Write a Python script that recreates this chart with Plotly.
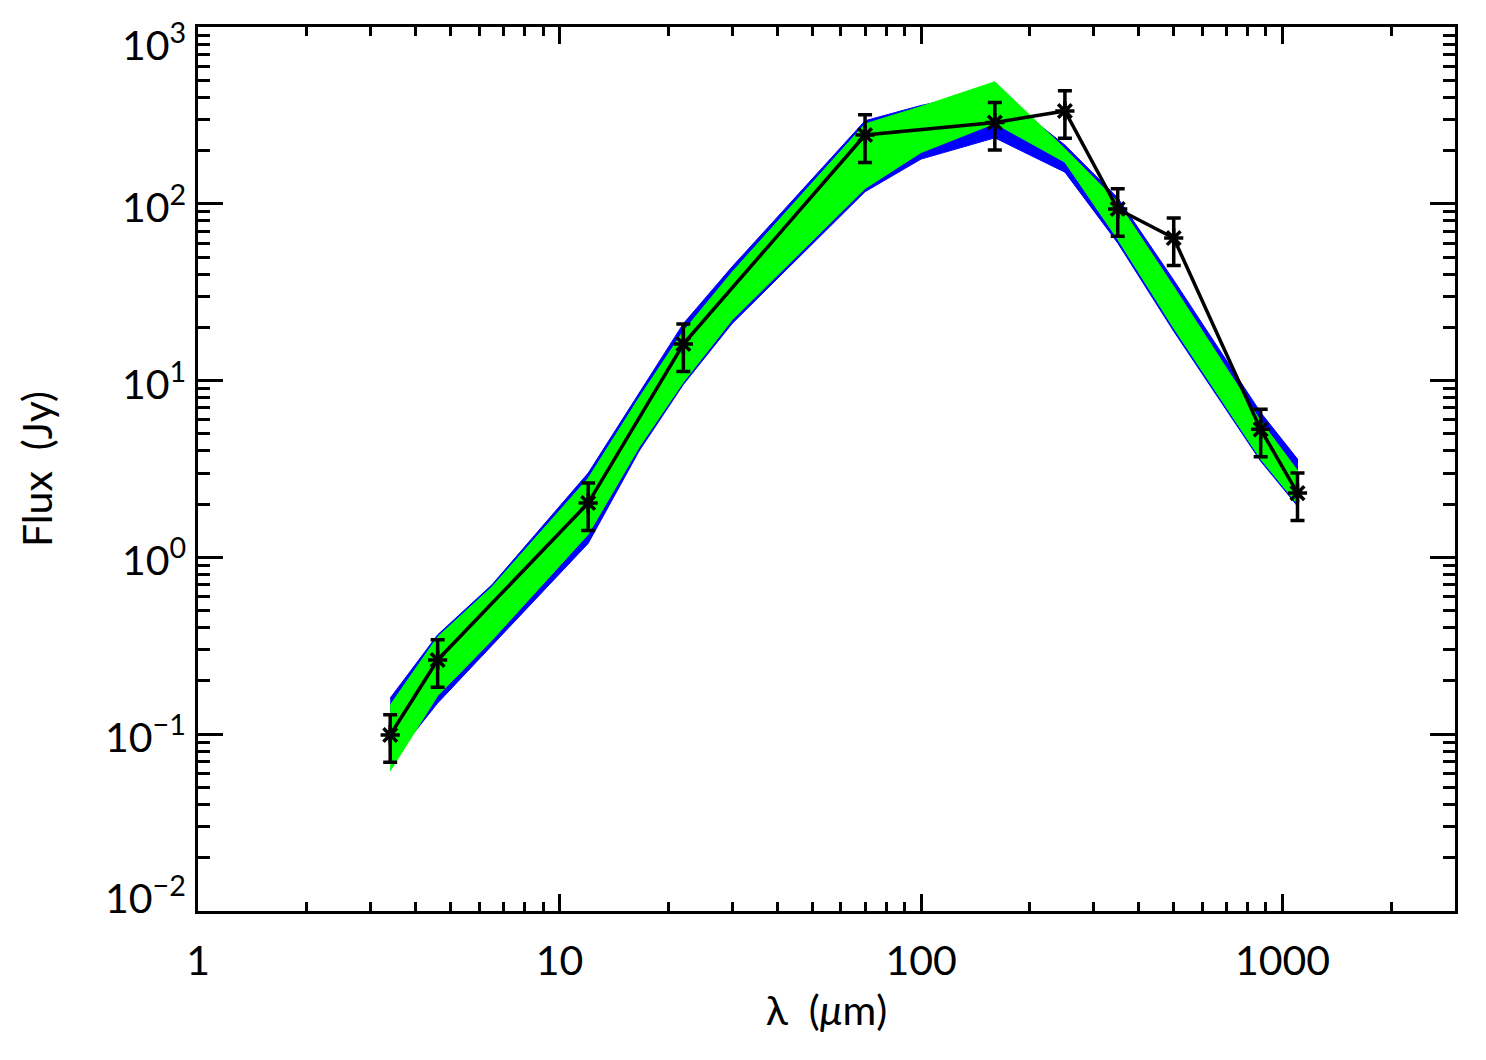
import math
import plotly.graph_objects as go

# Observed photometry
obs_wl = [3.4, 4.6, 12, 22, 70, 160, 250, 350, 500, 870, 1100]
obs_flux = [0.099, 0.263, 2.03, 16.1, 245, 288, 335, 93.5, 64, 5.3, 2.31]
obs_err_pct = 30

# Model envelopes (blue and green families of model SEDs)
mod_wl = [3.4, 4.6, 6.5, 12, 16.6, 22, 30, 70, 100, 160, 250, 350, 500, 870, 1100]
blue_upper = [0.160, 0.365, 0.70, 3.0, 8.5, 21, 44, 295, 360, 440, 215, 108, 37, 6.6, 3.6]
blue_lower = [0.069, 0.150, 0.32, 1.2, 4.0, 9.5, 21, 117, 179, 236, 151, 60, 19, 3.5, 1.95]
green_upper = [0.146, 0.355, 0.68, 2.8, 8.0, 19, 41, 283, 355, 490, 205, 102, 34, 5.9, 3.1]
green_lower = [0.062, 0.165, 0.34, 1.35, 4.2, 9.8, 22, 122, 195, 285, 172, 63, 19.8, 3.6, 2.0]

x_ticks = [1, 10, 100, 1000]
x_ticktext = ["1", "10", "100", "1000"]
y_ticks = [0.01, 0.1, 1, 10, 100, 1000]
y_ticktext = ["10<sup>\u22122</sup>", "10<sup>\u22121</sup>", "10<sup>0</sup>",
              "10<sup>1</sup>", "10<sup>2</sup>", "10<sup>3</sup>"]
# label anchor positions (end labels are pulled inside the frame, as in the original)
y_label_pos = [10 ** -1.91, 0.1, 1, 10, 100, 10 ** 2.915]

FONT = "Lato"
FS = 41

fig = go.Figure()


def band(upper, lower, color):
    return go.Scatter(
        x=mod_wl + mod_wl[::-1],
        y=upper + lower[::-1],
        fill="toself",
        fillcolor=color,
        line=dict(color=color, width=1),
        mode="lines",
        hoverinfo="skip",
        showlegend=False,
    )


fig.add_trace(band(blue_upper, blue_lower, "#0000FF"))
fig.add_trace(band(green_upper, green_lower, "#00FF00"))

fig.add_trace(go.Scatter(
    x=obs_wl, y=obs_flux,
    mode="lines+markers",
    line=dict(color="black", width=3.5),
    marker=dict(symbol="asterisk-open", size=16, color="black",
                line=dict(color="black", width=3.5)),
    error_y=dict(type="percent", value=obs_err_pct, color="black",
                 thickness=3.5, width=7),
    showlegend=False,
))

minor_x = [m * 10 ** d for d in range(0, 4) for m in range(2, 10) if m * 10 ** d <= 3000]
minor_y = [m * 10.0 ** d for d in range(-2, 3) for m in range(2, 10)]

YR = [-2.0, 3.0]

# y tick labels as text placed beside the left axis
for pos, txt in zip(y_label_pos, y_ticktext):
    fig.add_annotation(
        x=0, xref="paper", y=math.log10(pos), yref="y",
        text=txt, showarrow=False, xanchor="right", yanchor="middle",
        xshift=-10, font=dict(family=FONT, size=FS, color="black"),
    )

fig.update_layout(
    width=1486, height=1060,
    margin=dict(l=198, r=31, t=27, b=149),
    paper_bgcolor="white", plot_bgcolor="white",
    font=dict(family=FONT, size=FS, color="black"),
    xaxis=dict(
        type="log", range=[-0.0002, 3.4771],
        tickmode="array", tickvals=x_ticks, ticktext=x_ticktext,
        ticks="inside", ticklen=17, tickwidth=3, tickcolor="black",
        minor=dict(tickmode="array", tickvals=minor_x, ticks="inside",
                   ticklen=9, tickwidth=3, tickcolor="black", showgrid=False),
        showline=True, linewidth=3, linecolor="black", mirror="allticks",
        showgrid=False, zeroline=False,
        ticklabelstandoff=12,
        tickfont=dict(family=FONT, size=FS),
        title=dict(text="\u03bb  (<i>\u03bc</i>m)", font=dict(family=FONT, size=FS),
                   standoff=14),
    ),
    yaxis=dict(
        type="log", range=YR,
        tickmode="array", tickvals=y_ticks, showticklabels=False,
        ticks="inside", ticklen=25, tickwidth=3, tickcolor="black",
        minor=dict(tickmode="array", tickvals=minor_y, ticks="inside",
                   ticklen=12, tickwidth=3, tickcolor="black", showgrid=False),
        showline=True, linewidth=3, linecolor="black", mirror="allticks",
        showgrid=False, zeroline=False,
        title=dict(text="Flux  (Jy)", font=dict(family=FONT, size=FS), standoff=130),
    ),
)

fig.write_html("out.html")
